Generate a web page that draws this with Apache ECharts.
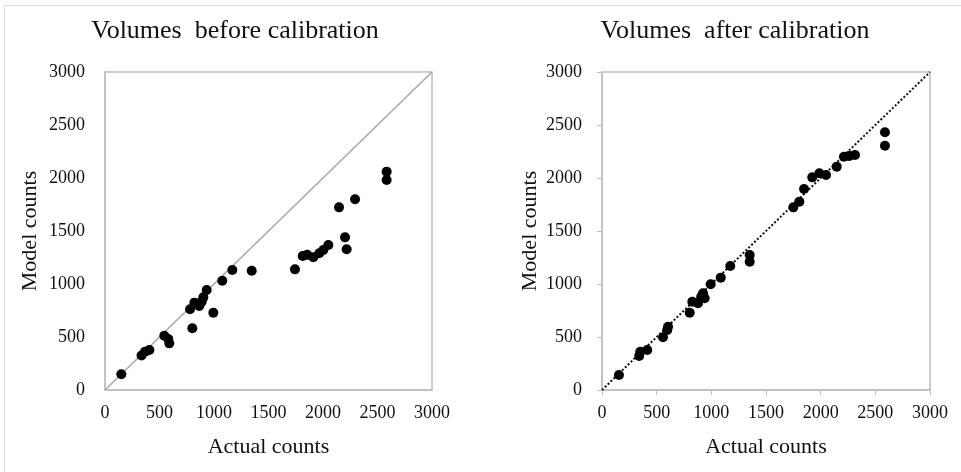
<!DOCTYPE html>
<html>
<head>
<meta charset="utf-8">
<script src="https://cdn.jsdelivr.net/npm/echarts@6/dist/echarts.min.js"></script>
<style>html,body{margin:0;padding:0;background:#fff;}#c{width:961px;height:472px;}</style>
</head>
<body>
<div id="c"></div>
<script>
// Titles and axis text
const titles = ['Volumes  before calibration', 'Volumes  after calibration'];
const xAxisName = 'Actual counts';
const yAxisName = 'Model counts';
const axisTicks = [0, 500, 1000, 1500, 2000, 2500, 3000];

// Before calibration (actual, model)
const beforeActual = [150, 335, 367, 407, 544, 581, 590, 801, 780, 820, 865, 887, 902, 933, 994, 1076, 1168, 1346, 1743, 1814, 1855, 1911, 1966, 2003, 2049, 2202, 2217, 2147, 2294, 2584, 2584];
const beforeModel  = [148, 325, 361, 377, 512, 481, 440, 582, 761, 824, 792, 833, 874, 943, 729, 1031, 1132, 1125, 1138, 1264, 1275, 1252, 1290, 1321, 1368, 1440, 1327, 1723, 1799, 2060, 1981];

// After calibration (actual, model)
const afterActual = [155, 340, 350, 414, 558, 597, 604, 802, 826, 878, 908, 939, 924, 994, 1086, 1173, 1351, 1351, 1750, 1805, 1848, 1923, 1988, 2049, 2147, 2213, 2262, 2314, 2588, 2588];
const afterModel  = [141, 321, 361, 377, 497, 566, 597, 729, 833, 818, 880, 865, 912, 997, 1060, 1170, 1274, 1210, 1723, 1777, 1896, 2006, 2044, 2028, 2107, 2201, 2208, 2217, 2431, 2305];

// Reference diagonal
const diagonal = [[0, 0], [3000, 3000]];

const pairs = (xs, ys) => xs.map((x, i) => [x, ys[i]]);
const FONT = "'Liberation Serif', 'Times New Roman', serif";
const grey = '#bfbfbf';
const fmt = v => String(v);

function xAx(idx, withTicks) {
  return {
    gridIndex: idx, type: 'value', min: axisTicks[0], max: axisTicks[axisTicks.length - 1], interval: 500,
    name: xAxisName, nameLocation: 'middle', nameGap: 46,
    nameTextStyle: { fontFamily: FONT, fontSize: 22, color: '#111' },
    axisLine: { show: true, lineStyle: { color: grey, width: 1.5 } },
    axisTick: { show: withTicks, length: 5, lineStyle: { color: grey } },
    axisLabel: { fontFamily: FONT, fontSize: 18, color: '#111', margin: 14, formatter: fmt },
    splitLine: { show: false }
  };
}
function yAx(idx, withTicks, gap) {
  return {
    gridIndex: idx, type: 'value', min: axisTicks[0], max: axisTicks[axisTicks.length - 1], interval: 500,
    name: yAxisName, nameLocation: 'middle', nameGap: gap,
    nameTextStyle: { fontFamily: FONT, fontSize: 22, color: '#111' },
    axisLine: { show: true, lineStyle: { color: grey, width: 1.5 } },
    axisTick: { show: withTicks, length: 5, lineStyle: { color: grey } },
    axisLabel: { fontFamily: FONT, fontSize: 18, color: '#111', margin: 20, formatter: fmt },
    splitLine: { show: false }
  };
}

const chart = echarts.init(document.getElementById('c'));
chart.setOption({
  backgroundColor: '#fff',
  animation: false,
  title: [
    { text: titles[0], left: 230, top: 13, textAlign: 'center',
      textStyle: { fontFamily: FONT, fontSize: 26, fontWeight: 'normal', color: '#111' } },
    { text: titles[1], left: 730, top: 13, textAlign: 'center',
      textStyle: { fontFamily: FONT, fontSize: 26, fontWeight: 'normal', color: '#111' } }
  ],
  graphic: [
    { type: 'rect', shape: { x: 4.5, y: 5.5, width: 1000, height: 1000 }, silent: true,
      style: { fill: 'none', stroke: '#dddddd', lineWidth: 1 } }
  ],
  grid: [
    { left: 105, top: 72, width: 327, height: 318, show: true, borderColor: grey, borderWidth: 1.5 },
    { left: 602, top: 72, width: 328, height: 318, show: true, borderColor: grey, borderWidth: 1.5 }
  ],
  xAxis: [xAx(0, false), xAx(1, true)],
  yAxis: [yAx(0, false, 64), yAx(1, true, 61)],
  series: [
    { type: 'line', xAxisIndex: 0, yAxisIndex: 0, data: diagonal, showSymbol: false, symbol: 'none',
      lineStyle: { color: '#a6a6a6', width: 1.5 }, z: 1 },
    { type: 'line', xAxisIndex: 1, yAxisIndex: 1, data: diagonal, showSymbol: false, symbol: 'none',
      lineStyle: { color: '#111', width: 2, type: [2, 2] }, z: 1 },
    { type: 'scatter', xAxisIndex: 0, yAxisIndex: 0, data: pairs(beforeActual, beforeModel),
      symbol: 'circle', symbolSize: 10, itemStyle: { color: '#000', opacity: 1 }, z: 3 },
    { type: 'scatter', xAxisIndex: 1, yAxisIndex: 1, data: pairs(afterActual, afterModel),
      symbol: 'circle', symbolSize: 10, itemStyle: { color: '#000', opacity: 1 }, z: 3 }
  ]
});
</script>
</body>
</html>
